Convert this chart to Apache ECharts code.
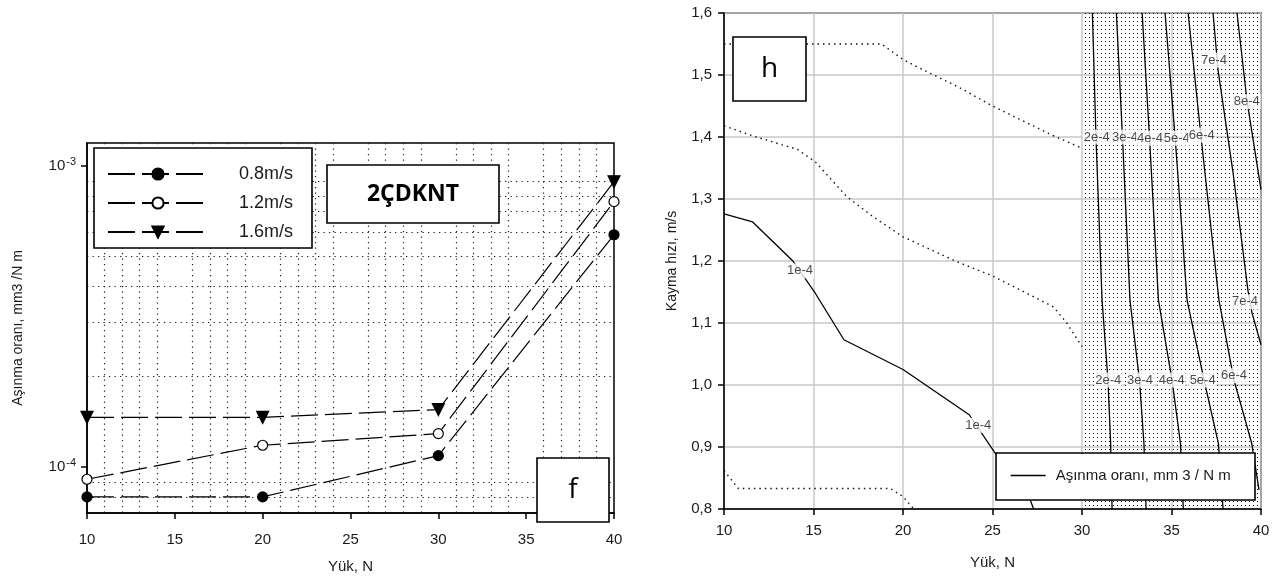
<!DOCTYPE html>
<html>
<head>
<meta charset="utf-8">
<script src="https://cdn.jsdelivr.net/npm/echarts@6/dist/echarts.min.js"></script>
<style>
html, body { margin: 0; padding: 0; background: #fff; }
#chart { width: 1283px; height: 581px; }
</style>
</head>
<body>
<div id="chart"></div>
<script>
// sol panel: aşınma oranı - yük (log eksen)
const loads = [10, 20, 30, 40]
const wear08 = [7.95e-5, 7.95e-5, 1.09e-4, 5.9e-4]
const wear12 = [9.1e-5, 1.18e-4, 1.29e-4, 7.6e-4]
const wear16 = [1.46e-4, 1.46e-4, 1.55e-4, 8.85e-4]
const speedNames = ['0.8m/s', '1.2m/s', '1.6m/s']
const wearMin = 7.03e-5
const wearMax = 1.19e-3
const decadeTicks = [1e-4, 1e-3]
const minorWear = [8e-5, 9e-5, 2e-4, 3e-4, 4e-4, 5e-4, 6e-4, 7e-4, 8e-4, 9e-4]

// sağ panel: kontur çizgileri [yük, kayma hızı]
const level1 = [[10, 1.276], [11.6, 1.263], [13.85, 1.2], [15.1, 1.148], [16.7, 1.073], [20.0, 1.025], [23.7, 0.952], [25.1, 0.892], [27.1, 0.815], [27.3, 0.8]]
const level2 = [[30.58, 1.6], [30.78, 1.4], [31.12, 1.137], [31.45, 1.008], [31.6, 0.906], [31.68, 0.8]]
const level3 = [[31.92, 1.6], [32.26, 1.4], [32.68, 1.137], [33.21, 1.008], [33.46, 0.906], [33.58, 0.8]]
const level4 = [[33.36, 1.6], [33.77, 1.4], [34.27, 1.137], [35.03, 1.008], [35.5, 0.906], [35.66, 0.8]]
const level5 = [[34.64, 1.6], [35.2, 1.4], [35.87, 1.137], [36.82, 1.008], [37.62, 0.906], [37.88, 0.8]]
const level6 = [[35.93, 1.6], [36.65, 1.4], [37.65, 1.137], [38.49, 1.008], [39.48, 0.906], [39.89, 0.831]]
const level7 = [[37.32, 1.6], [37.6, 1.508], [38.44, 1.342], [39.27, 1.153], [39.5, 1.116], [40, 1.065]]
const level8 = [[38.66, 1.6], [39.22, 1.458], [40, 1.315]]
const dottedTop = [[10, 1.55], [14.7, 1.55], [18.8, 1.55], [20.0, 1.525], [21.5, 1.503], [23.2, 1.479], [25.0, 1.45], [28.4, 1.402], [30.0, 1.382]]
const dottedMid = [[10, 1.418], [11.8, 1.4], [14.1, 1.38], [15.1, 1.36], [16.85, 1.304], [18.3, 1.272], [20.0, 1.239], [23.0, 1.199], [25.0, 1.176], [28.4, 1.126], [29.15, 1.1], [30.0, 1.062]]
const dottedLow = [[10, 0.862], [10.8, 0.833], [19.3, 0.833], [20.0, 0.82], [20.6, 0.8]]
const contourLabels = [
  [14.25, 1.184, '1e-4'], [24.2, 0.935, '1e-4'],
  [30.82, 1.4, '2e-4'], [32.4, 1.4, '3e-4'], [33.8, 1.398, '4e-4'], [35.29, 1.398, '5e-4'], [36.69, 1.403, '6e-4'],
  [37.37, 1.524, '7e-4'], [39.2, 1.457, '8e-4'],
  [31.47, 1.008, '2e-4'], [33.24, 1.008, '3e-4'], [35.01, 1.008, '4e-4'], [36.74, 1.008, '5e-4'], [38.49, 1.015, '6e-4'],
  [39.11, 1.134, '7e-4']
]
const denseZone = [30, 40]
const legendName = 'Aşınma oranı, mm 3 / N m'

const font = 'Liberation Sans'
const ink = '#1a1a1a'

// yoğun noktalı bölge için desen
const dots = document.createElement('canvas')
dots.width = 4
dots.height = 4
const dctx = dots.getContext('2d')
dctx.fillStyle = '#111'
dctx.fillRect(1, 1, 1, 1)

const lg = v => Math.log10(v)
const dotted = { type: [1.3, 4.2], color: '#222', width: 1.2 }

const chart = echarts.init(document.getElementById('chart'))

const wearSeries = (name, values, symbol, fill, size, rotate) => ({
  name: name,
  type: 'line',
  xAxisIndex: 0,
  yAxisIndex: 0,
  data: loads.map((x, i) => [x, lg(values[i])]),
  symbol: symbol,
  symbolSize: size,
  symbolRotate: rotate,
  lineStyle: { color: '#000', width: 1.2, type: [27, 7] },
  itemStyle: { color: fill, borderColor: '#000', borderWidth: 1.2 },
  z: 5
})

const contour = (data, extra) => Object.assign({
  name: legendName,
  type: 'line',
  xAxisIndex: 1,
  yAxisIndex: 1,
  data: data,
  symbol: 'none',
  itemStyle: { color: '#000' },
  lineStyle: { color: '#000', width: 1.3 },
  z: 4
}, extra)

const dottedLine = data => ({
  name: 'dotted',
  type: 'line',
  xAxisIndex: 1,
  yAxisIndex: 1,
  data: data,
  symbol: 'none',
  lineStyle: { type: [1.5, 4], color: '#111', width: 1.4 },
  z: 4
})

const boxText = (x, y, w, h, text, size, weight, family) => ([
  { type: 'rect', shape: { x: x, y: y, width: w, height: h }, style: { fill: '#fff', stroke: '#000', lineWidth: 1.6 }, z: 10 },
  { type: 'text', x: x + w / 2, y: y + h / 2, style: { text: text, font: weight + ' ' + size + 'px "' + family + '"', fill: '#000', align: 'center', verticalAlign: 'middle' }, z: 11 }
])

const option = {
  backgroundColor: '#fff',
  animation: false,
  textStyle: { fontFamily: font, color: ink },
  grid: [
    { left: 87, top: 143, width: 527, height: 370, show: true, borderColor: '#000', borderWidth: 1.5, backgroundColor: 'transparent' },
    { left: 724, top: 13, width: 537, height: 496, show: true, borderColor: '#000', borderWidth: 1.5, backgroundColor: 'transparent' }
  ],
  xAxis: [
    {
      gridIndex: 0, type: 'value', min: 10, max: 40, interval: 5,
      name: 'Yük, N', nameLocation: 'middle', nameGap: 46,
      nameTextStyle: { fontSize: 15, color: ink },
      axisLine: { lineStyle: { color: '#000', width: 1.5 } },
      axisTick: { length: 6, lineStyle: { color: '#000', width: 1.5 } },
      axisLabel: { fontSize: 15, color: ink, margin: 19 },
      splitLine: { show: false },
      minorTick: { show: false, splitNumber: 5 },
      minorSplitLine: { show: true, lineStyle: dotted }
    },
    {
      gridIndex: 1, type: 'value', min: 10, max: 40, interval: 5,
      name: 'Yük, N', nameLocation: 'middle', nameGap: 46,
      nameTextStyle: { fontSize: 15, color: ink },
      axisLine: { lineStyle: { color: '#000', width: 1.5 } },
      axisTick: { length: 6, lineStyle: { color: '#000', width: 1.5 } },
      axisLabel: { fontSize: 15, color: ink, margin: 14 },
      splitLine: { show: true, lineStyle: { color: '#c8c8c8', width: 1.5 } }
    }
  ],
  yAxis: [
    {
      gridIndex: 0, type: 'value', min: lg(wearMin), max: lg(wearMax),
      name: 'Aşınma oranı, mm3 /N m', nameLocation: 'middle', nameGap: 62,
      nameTextStyle: { fontSize: 14, color: ink },
      axisLine: { lineStyle: { color: '#000', width: 1.5 } },
      axisTick: { length: 6, lineStyle: { color: '#000', width: 1.5 }, customValues: decadeTicks.map(lg) },
      axisLabel: {
        margin: 11,
        customValues: decadeTicks.map(lg),
        formatter: v => '{b|10}{s|' + Math.round(v) + '}',
        rich: {
          b: { fontSize: 15, color: ink, fontFamily: font },
          s: { fontSize: 11, color: ink, fontFamily: font, padding: [0, 0, 8, 1] }
        }
      },
      splitLine: { show: false }
    },
    {
      gridIndex: 1, type: 'value', min: 0.8, max: 1.6, interval: 0.1,
      name: 'Kayma hızı, m/s', nameLocation: 'middle', nameGap: 45,
      nameTextStyle: { fontSize: 14, color: ink },
      axisLine: { lineStyle: { color: '#000', width: 1.5 } },
      axisTick: { length: 6, lineStyle: { color: '#000', width: 1.5 } },
      axisLabel: { fontSize: 15, color: ink, margin: 12, formatter: v => v.toFixed(1).replace('.', ',') },
      splitLine: { show: true, lineStyle: { color: '#c8c8c8', width: 1.5 } }
    }
  ],
  legend: [
    {
      data: speedNames,
      orient: 'vertical',
      left: 107, top: 165,
      padding: 0,
      itemWidth: 100, itemHeight: 14, itemGap: 11,
      selectedMode: false,
      textStyle: { fontSize: 18, color: ink, fontFamily: font, padding: [0, 0, 0, 26] },
      z: 20
    },
    {
      data: [legendName],
      left: 1010, top: 468,
      padding: 0,
      itemWidth: 35, itemHeight: 14,
      selectedMode: false,
      itemStyle: { opacity: 0 },
      lineStyle: { color: '#000', width: 1.3 },
      textStyle: { fontSize: 15, color: ink, fontFamily: font, padding: [0, 0, 0, 5] },
      z: 20
    }
  ],
  graphic: [
    { type: 'rect', shape: { x: 94, y: 148, width: 218, height: 100 }, style: { fill: '#fff', stroke: '#000', lineWidth: 1.6 }, z: 10 },
    { type: 'rect', shape: { x: 996, y: 453, width: 259, height: 47 }, style: { fill: '#fff', stroke: '#000', lineWidth: 1.6 }, z: 10 }
  ].concat(
    boxText(327, 165, 172, 58, '2ÇDKNT', 23, 'bold', 'Open Sans'),
    boxText(537, 458, 72, 64, 'f', 28, 'normal', 'Open Sans'),
    boxText(733, 37, 73, 64, 'h', 28, 'normal', 'Open Sans')
  ),
  series: [
    wearSeries(speedNames[0], wear08, 'circle', '#000', 10, 0),
    wearSeries(speedNames[1], wear12, 'circle', '#fff', 10, 0),
    wearSeries(speedNames[2], wear16, 'triangle', '#000', 12, 180),
    {
      name: 'minor grid',
      type: 'line',
      xAxisIndex: 0,
      yAxisIndex: 0,
      data: [],
      markLine: {
        silent: true,
        symbol: 'none',
        label: { show: false },
        lineStyle: dotted,
        data: minorWear.map(v => ({ yAxis: lg(v) }))
      }
    },
    contour(level1, {
      markArea: {
        silent: true,
        itemStyle: { color: { image: dots, repeat: 'repeat' } },
        data: [[{ xAxis: denseZone[0], yAxis: 0.8 }, { xAxis: denseZone[1], yAxis: 1.6 }]]
      }
    }),
    contour(level2), contour(level3), contour(level4), contour(level5),
    contour(level6), contour(level7), contour(level8),
    dottedLine(dottedTop), dottedLine(dottedMid), dottedLine(dottedLow),
    {
      name: 'labels',
      type: 'scatter',
      xAxisIndex: 1,
      yAxisIndex: 1,
      symbolSize: 0,
      data: contourLabels.map(d => ({ value: [d[0], d[1]], label: { formatter: d[2] } })),
      label: {
        show: true,
        position: 'inside',
        fontSize: 13,
        color: ink,
        fontFamily: font,
        backgroundColor: '#fff',
        padding: [1, 1]
      },
      z: 6
    }
  ]
}

chart.setOption(option)
</script>
</body>
</html>
